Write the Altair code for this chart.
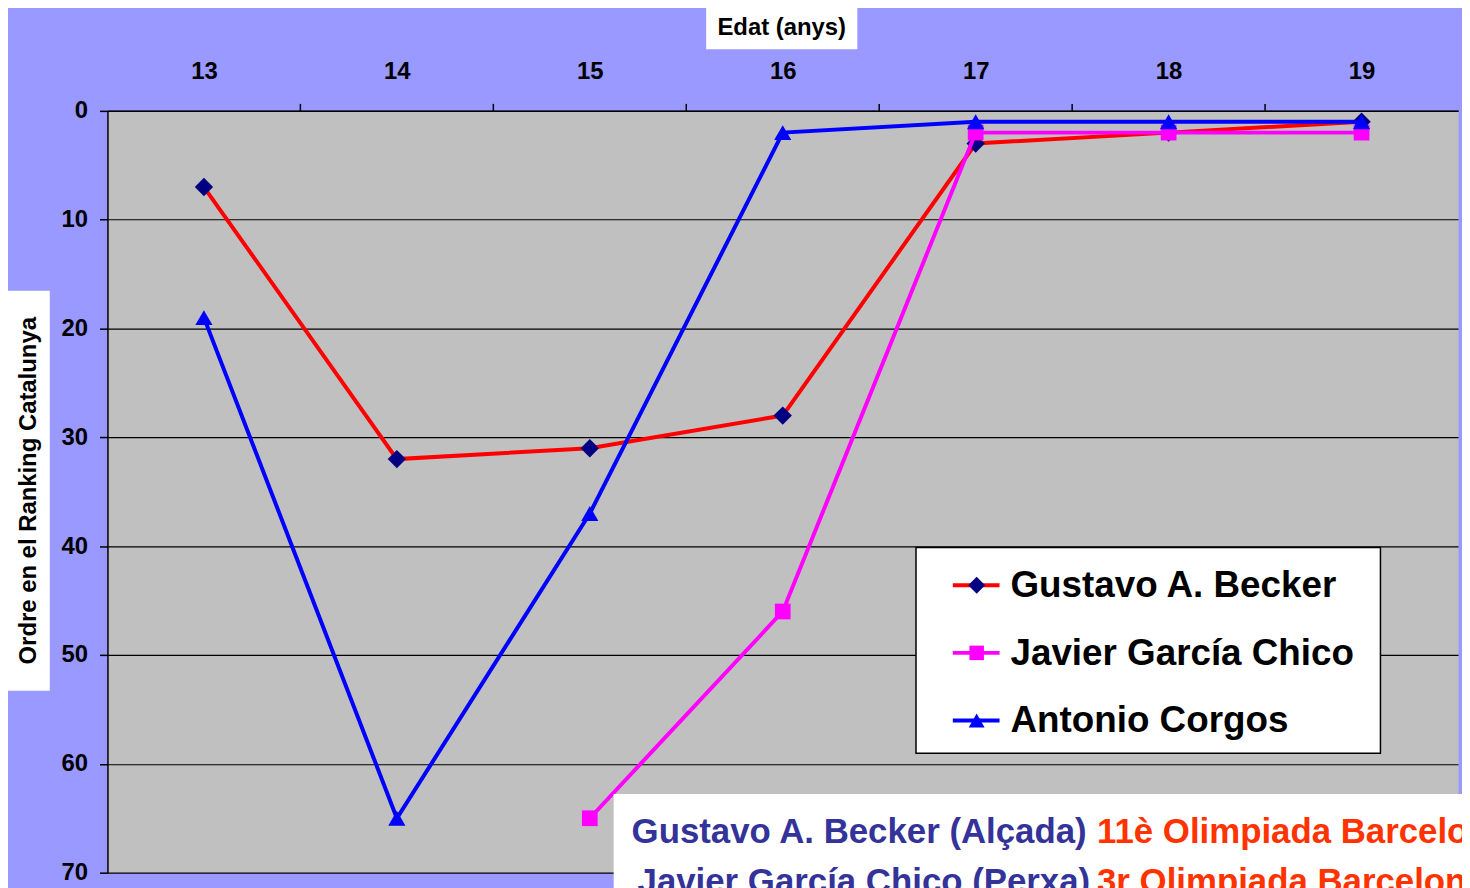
import altair as alt
import pandas as pd

# ---- data ----
ages = [13, 14, 15, 16, 17, 18, 19]
becker = [7, 32, 31, 28, 3, 2, 1]
garcia = [None, None, 65, 46, 2, 2, 2]
corgos = [19, 65, 37, 2, 1, 1, 1]
series_names = ["Gustavo A. Becker", "Javier García Chico", "Antonio Corgos"]
y_ticks = [0, 10, 20, 30, 40, 50, 60, 70]

line_colors = ["#FF0000", "#FF00FF", "#0000FF"]
marker_colors = ["#000080", "#FF00FF", "#0000FF"]
marker_shapes = ["diamond", "square", "triangle-up"]
marker_sizes = [340, 250, 300]

x_title = "Edat (anys)"
y_title = "Ordre en el Ranking Catalunya"
note1 = ["Gustavo A. Becker (Alçada)", "11è Olimpiada Barcelona"]
note2 = ["Javier García Chico (Perxa)", "3r Olimpiada Barcelona"]

FONT = "Liberation Sans"
W, H = 1358, 766

values = [becker, garcia, corgos]
frames = []
for name, vals in zip(series_names, values):
    for a, v in zip(ages, vals):
        if v is not None:
            frames.append({"series": name, "age": a, "rank": v})
df = pd.DataFrame(frames)
bounds = pd.DataFrame({"b": [a + 0.5 for a in ages[:-1]]})
one = pd.DataFrame({"a": [0]})

xs = alt.Scale(domain=[ages[0] - 0.5, ages[-1] + 0.5], nice=False, zero=False)
ys = alt.Scale(domain=[0, 70], reverse=True, nice=False, zero=False)

X = alt.X("age:Q", scale=xs, axis=alt.Axis(orient="top", values=ages, format="d", tickSize=0,
                                             labelPadding=28, labelFontSize=24, labelFontWeight="bold",
                                             labelColor="black", domainColor="black", domainWidth=1.5,
                                             grid=False, title=None))
Y = alt.Y("rank:Q", scale=ys, axis=alt.Axis(values=y_ticks, tickSize=8, tickColor="black", tickWidth=1.5,
                                            labelPadding=12, labelFontSize=24, labelFontWeight="bold",
                                            labelColor="black", domainColor="black", domainWidth=1.5,
                                            grid=True, gridColor="black", gridWidth=1.2, gridOpacity=1,
                                            title=None))

layers = []
for i, name in enumerate(series_names):
    d = df[df.series == name]
    base = alt.Chart(d)
    layers.append(base.mark_line(color=line_colors[i], strokeWidth=4).encode(x=X, y=Y))
    layers.append(base.mark_point(shape=marker_shapes[i], filled=True, size=marker_sizes[i],
                                  color=marker_colors[i], opacity=1).encode(x=X, y=Y))

# boundary ticks on top axis
layers.append(alt.Chart(bounds).mark_rule(color="black", strokeWidth=1.5).encode(
    x=alt.X("b:Q", scale=xs), y=alt.value(-7), y2=alt.value(0)))

# legend box
layers.append(alt.Chart(one).mark_rect(fill="white", stroke="black", strokeWidth=1.5).encode(
    x=alt.value(813), x2=alt.value(1280), y=alt.value(439), y2=alt.value(646)))
for i, name in enumerate(series_names):
    yy = 477 + 68 * i
    layers.append(alt.Chart(one).mark_rule(color=line_colors[i], strokeWidth=4).encode(
        x=alt.value(850), x2=alt.value(897), y=alt.value(yy)))
    layers.append(alt.Chart(one).mark_point(shape=marker_shapes[i], filled=True, size=marker_sizes[i] * 0.85,
                                            color=marker_colors[i], opacity=1).encode(
        x=alt.value(874), y=alt.value(yy)))
    layers.append(alt.Chart(one).mark_text(font=FONT, fontSize=37, fontWeight="bold", color="black",
                                           align="left", baseline="middle").encode(
        x=alt.value(908), y=alt.value(yy + 1), text=alt.value(name)))

# bottom note box
layers.append(alt.Chart(one).mark_rect(fill="white").encode(
    x=alt.value(509), x2=alt.value(1400), y=alt.value(687), y2=alt.value(820)))
for (t1, t2), xx, yy in [(note1, 527, 736), (note2, 533, 786)]:
    layers.append(alt.Chart(one).mark_text(font=FONT, fontSize=35, fontWeight="bold", color="#333399",
                                           align="left", baseline="alphabetic").encode(
        x=alt.value(xx), y=alt.value(yy), text=alt.value(t1)))
    layers.append(alt.Chart(one).mark_text(font=FONT, fontSize=35, fontWeight="bold", color="#FF3300",
                                           align="left", baseline="alphabetic").encode(
        x=alt.value(995), y=alt.value(yy), text=alt.value(t2)))

# x title box
layers.append(alt.Chart(one).mark_rect(fill="white").encode(
    x=alt.value(602), x2=alt.value(754), y=alt.value(-104), y2=alt.value(-62)))
layers.append(alt.Chart(one).mark_text(fontSize=24, fontWeight="bold", color="black",
                                       align="center", baseline="middle").encode(
    x=alt.value(678), y=alt.value(-83), text=alt.value(x_title)))
# y title box
layers.append(alt.Chart(one).mark_rect(fill="white").encode(
    x=alt.value(-100), x2=alt.value(-58), y=alt.value(181), y2=alt.value(583)))
layers.append(alt.Chart(one).mark_text(fontSize=24, fontWeight="bold", color="black", angle=270,
                                       align="center", baseline="middle").encode(
    x=alt.value(-79), y=alt.value(382), text=alt.value(y_title)))

chart = alt.layer(*layers).properties(
    width=W, height=H,
    autosize=alt.AutoSizeParams(type="none"),
    padding={"left": 100, "top": 101, "right": 4, "bottom": 13},
    background="#9999FF",
).configure(font=FONT).configure_view(fill="#C0C0C0", strokeOpacity=0)

chart.save("out.html", embed_options={"renderer": "svg", "actions": False})
